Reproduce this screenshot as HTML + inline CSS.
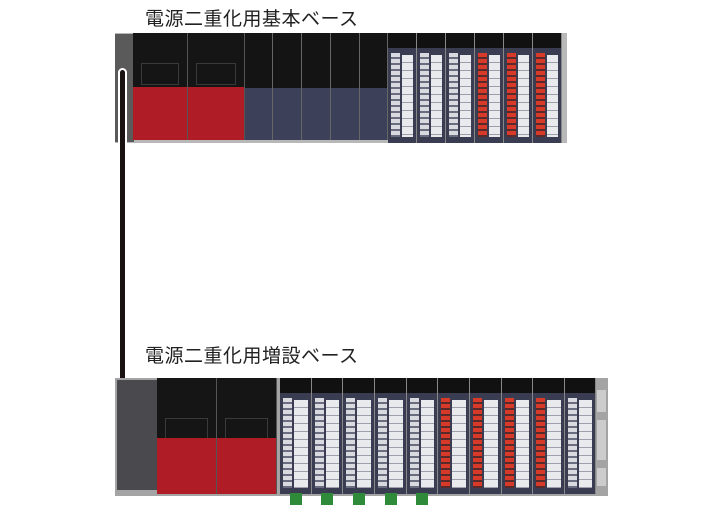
<!DOCTYPE html>
<html><head><meta charset="utf-8"><style>
body{margin:0;width:720px;height:520px;background:#fff;position:relative;overflow:hidden;font-family:"Liberation Sans","Noto Sans CJK JP",sans-serif}
div{position:absolute;box-sizing:border-box}
.t{font-size:19px;color:#222;white-space:nowrap;letter-spacing:0.5px}
.ps{background:#151515;border-right:1px solid #555}
.ps .r{left:0;right:0;bottom:0;background:#b01c26}
.ps .w{left:8px;right:8px;height:22px;border:1px solid #3a3a3a}
.cpu{background:#141414;border-right:1px solid #666}
.cpu .n{left:0;right:0;bottom:0;background:#3c4058}
.io{background:#3a3d52;border-right:1px solid #888}
.io .h{left:0;right:0;top:0;height:15px;background:#111}
.io .l{left:3px;width:9px;top:20px;bottom:6px;background:repeating-linear-gradient(#d8dae0 0 4px,#6a6d80 4px 6px)}
.io.red .l{background:repeating-linear-gradient(#d83a2a 0 4px,#5a2a2a 4px 6px)}
.io .b{left:14px;right:3px;top:22px;bottom:6px;background:repeating-linear-gradient(#e8eaee 0 7px,#9da0aa 7px 8px)}
.g{background:#2f8a3a}
</style></head><body>
<div class="t" style="left:145px;top:4px">電源二重化用基本ベース</div>
<div class="t" style="left:145px;top:341px">電源二重化用増設ベース</div>

<!-- top rack -->
<div style="left:115px;top:33px;width:452px;height:110px;background:#b8b8b8"></div>
<div style="left:115px;top:34px;width:19px;height:108px;background:#5a5a5a"></div>
<div class="ps" style="left:133px;top:33px;width:55px;height:107px"><div class="w" style="top:30px"></div><div class="r" style="height:53px"></div></div>
<div class="ps" style="left:188px;top:33px;width:57px;height:107px"><div class="w" style="top:30px"></div><div class="r" style="height:53px"></div></div>
<div class="cpu" style="left:245px;top:33px;width:28px;height:107px"><div class="n" style="height:52px"></div></div>
<div class="cpu" style="left:273px;top:33px;width:29px;height:107px"><div class="n" style="height:52px"></div></div>
<div class="cpu" style="left:302px;top:33px;width:29px;height:107px"><div class="n" style="height:52px"></div></div>
<div class="cpu" style="left:331px;top:33px;width:29px;height:107px"><div class="n" style="height:52px"></div></div>
<div class="cpu" style="left:360px;top:33px;width:28px;height:107px"><div class="n" style="height:52px"></div></div>
<div class="io" style="left:388px;top:33px;width:29px;height:110px"><div class="h"></div><div class="l"></div><div class="b"></div></div>
<div class="io" style="left:417px;top:33px;width:29px;height:110px"><div class="h"></div><div class="l"></div><div class="b"></div></div>
<div class="io" style="left:446px;top:33px;width:29px;height:110px"><div class="h"></div><div class="l"></div><div class="b"></div></div>
<div class="io red" style="left:475px;top:33px;width:29px;height:110px"><div class="h"></div><div class="l"></div><div class="b"></div></div>
<div class="io red" style="left:504px;top:33px;width:29px;height:110px"><div class="h"></div><div class="l"></div><div class="b"></div></div>
<div class="io red" style="left:533px;top:33px;width:29px;height:110px"><div class="h"></div><div class="l"></div><div class="b"></div></div>

<!-- cable -->
<div style="left:118px;top:68px;width:9px;height:356px;border:2px solid #fff;border-radius:5px;background:#1a1212"></div>

<!-- bottom rack -->
<div style="left:115px;top:378px;width:493px;height:118px;background:#a4a4a4"></div>
<div style="left:117px;top:380px;width:40px;height:110px;background:#4a4a4e"></div>
<div style="left:597px;top:390px;width:9px;height:22px;background:#ccc"></div>
<div style="left:597px;top:420px;width:9px;height:40px;background:#ccc"></div>
<div style="left:597px;top:468px;width:9px;height:18px;background:#ccc"></div>
<div class="ps" style="left:157px;top:378px;width:60px;height:116px"><div class="w" style="top:40px"></div><div class="r" style="height:56px"></div></div>
<div class="ps" style="left:217px;top:378px;width:60px;height:116px"><div class="w" style="top:40px"></div><div class="r" style="height:56px"></div></div>
<div class="io" style="left:280px;top:378px;width:32px;height:116px"><div class="h"></div><div class="l"></div><div class="b"></div></div>
<div class="io" style="left:312px;top:378px;width:31px;height:116px"><div class="h"></div><div class="l"></div><div class="b"></div></div>
<div class="io" style="left:343px;top:378px;width:32px;height:116px"><div class="h"></div><div class="l"></div><div class="b"></div></div>
<div class="io" style="left:375px;top:378px;width:32px;height:116px"><div class="h"></div><div class="l"></div><div class="b"></div></div>
<div class="io" style="left:407px;top:378px;width:31px;height:116px"><div class="h"></div><div class="l"></div><div class="b"></div></div>
<div class="io red" style="left:438px;top:378px;width:32px;height:116px"><div class="h"></div><div class="l"></div><div class="b"></div></div>
<div class="io red" style="left:470px;top:378px;width:32px;height:116px"><div class="h"></div><div class="l"></div><div class="b"></div></div>
<div class="io red" style="left:502px;top:378px;width:31px;height:116px"><div class="h"></div><div class="l"></div><div class="b"></div></div>
<div class="io red" style="left:533px;top:378px;width:32px;height:116px"><div class="h"></div><div class="l"></div><div class="b"></div></div>
<div class="io" style="left:565px;top:378px;width:31px;height:116px"><div class="h"></div><div class="l"></div><div class="b"></div></div>
<div class="g" style="left:290px;top:493px;width:12px;height:12px"></div>
<div class="g" style="left:321px;top:493px;width:12px;height:12px"></div>
<div class="g" style="left:353px;top:493px;width:12px;height:12px"></div>
<div class="g" style="left:385px;top:493px;width:12px;height:12px"></div>
<div class="g" style="left:416px;top:493px;width:12px;height:12px"></div>
</body></html>
